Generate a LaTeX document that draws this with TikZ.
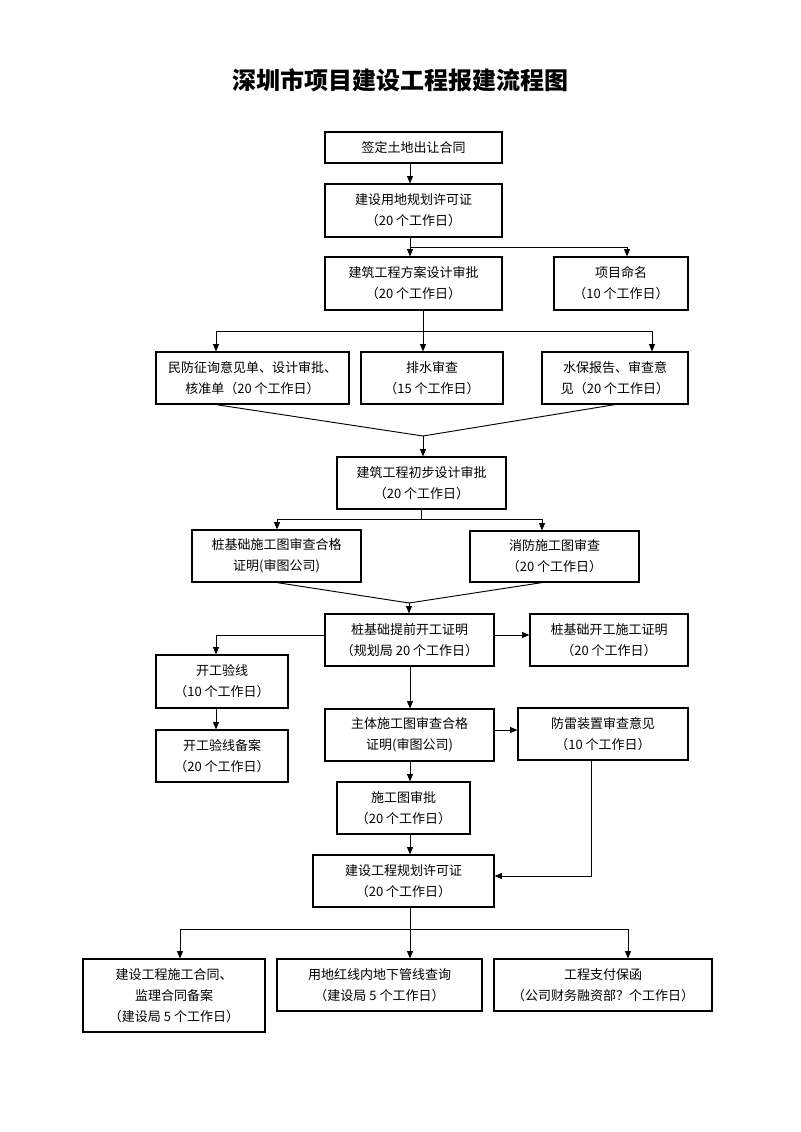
\documentclass[tikz,border=0pt]{standalone}
\usepackage{fontspec}
\setmainfont{Noto Sans CJK SC}
\usetikzlibrary{arrows.meta}
\newcommand{\px}{0.75pt}

\begin{document}
\begin{tikzpicture}[x=0.75pt, y=-0.75pt,
		box/.style={draw, line width=0.9pt, align=center, inner sep=0pt,
			font=\fontsize{9.75pt}{15.75pt}\selectfont},
		sz/.style 2 args={minimum width=#1*\px, minimum height=#2*\px},
		link/.style={line width=0.7pt},
		arr/.style={link, -{Triangle[length=5.5pt,width=4.5pt]}}]
		\useasboundingbox (0,0) rectangle (800,1132);
		\node[font=\bfseries\fontsize{18pt}{22pt}\selectfont] (title) at (400,80) {深圳市项目建设工程报建流程图};
		% boxes
		\node[box, sz={177}{31}] (qd) at (413.5,147.5) {签定土地出让合同};
		\node[box, sz={177}{53}] (ydgh) at (413.5,210.5) {建设用地规划许可证\\（20 个工作日）};
		\node[box, sz={177}{53}] (fa) at (413.5,283.5) {建筑工程方案设计审批\\（20 个工作日）};
		\node[box, sz={134}{53}] (xm) at (621,283.5) {项目命名\\（10 个工作日）};
		\node[box, sz={193}{52}] (mf) at (252.5,378) {民防征询意见单、设计审批、\\核准单（20 个工作日）};
		\node[box, sz={142}{52}] (ps) at (432,378) {排水审查\\（15 个工作日）};
		\node[box, sz={146}{52}] (sb) at (615,378) {水保报告、审查意\\见（20 个工作日）};
		\node[box, sz={169}{52}] (cb) at (421.5,483) {建筑工程初步设计审批\\（20 个工作日）};
		\node[box, sz={169}{52}] (zjt) at (276.5,556) {桩基础施工图审查合格\\证明(审图公司)};
		\node[box, sz={169}{51}] (xfs) at (554.5,556.5) {消防施工图审查\\（20 个工作日）};
		\node[box, sz={169}{52}] (tq) at (409.5,640) {桩基础提前开工证明\\（规划局 20 个工作日）};
		\node[box, sz={158}{52}] (kgz) at (609,640) {桩基础开工施工证明\\（20 个工作日）};
		\node[box, sz={132}{53}] (yx) at (222,681.5) {开工验线\\（10 个工作日）};
		\node[box, sz={132}{52}] (yxba) at (222,756) {开工验线备案\\（20 个工作日）};
		\node[box, sz={169}{52}] (zt) at (409.5,735) {主体施工图审查合格\\证明(审图公司)};
		\node[box, sz={170}{52}] (fl) at (603,734) {防雷装置审查意见\\（10 个工作日）};
		\node[box, sz={133}{52}] (sgt) at (403.5,808) {施工图审批\\（20 个工作日）};
		\node[box, sz={181}{52}] (ghz) at (403.5,881) {建设工程规划许可证\\（20 个工作日）};
		\node[box, sz={182}{73}] (ht) at (174,995.5) {建设工程施工合同、\\监理合同备案\\（建设局 5 个工作日）};
		\node[box, sz={205}{52}] (hx) at (379.5,985) {用地红线内地下管线查询\\（建设局 5 个工作日）};
		\node[box, sz={218}{52}] (bh) at (603,985) {工程支付保函\\（公司财务融资部？个工作日）};
		% columns, rows and meeting points
		\coordinate (c1) at (410,0);
		\coordinate (c2) at (627,0);
		\coordinate (c3) at (423,0);
		\coordinate (c4) at (216,0);
		\coordinate (c5) at (652,0);
		\coordinate (c6) at (277,0);
		\coordinate (c7) at (542,0);
		\coordinate (c8) at (591,0);
		\coordinate (c9) at (180,0);
		\coordinate (c10) at (628,0);
		\coordinate (r1) at (0,247);
		\coordinate (r2) at (0,331);
		\coordinate (r3) at (0,519);
		\coordinate (r4) at (0,635);
		\coordinate (r5) at (0,730);
		\coordinate (r6) at (0,876);
		\coordinate (r7) at (0,929);
		\coordinate (m1) at (423,436);
		\coordinate (m2) at (409,603);
		% connectors
		\draw[arr] (qd.south -| c1) -- (ydgh.north -| c1);
		\draw[arr] (ydgh.south -| c1) -- (fa.north -| c1);
		\draw[arr] (r1 -| c1) -| (xm.north -| c2);
		\draw[arr] (fa.south -| c3) -- (ps.north -| c3);
		\draw[arr] (r2 -| c3) -| (mf.north -| c4);
		\draw[arr] (r2 -| c3) -| (sb.north -| c5);
		\draw[link] (mf.south -| c4) -- (m1);
		\draw[link] (sb.south) -- (m1);
		\draw[arr] (m1) -- (cb.north -| m1);
		\draw[link] (cb.south) -- (cb.south |- r3);
		\draw[arr] (cb.south |- r3) -| (zjt.north -| c6);
		\draw[arr] (cb.south |- r3) -| (xfs.north -| c7);
		\draw[link] (zjt.south -| c6) -- (m2);
		\draw[link] (xfs.south -| c7) -- (m2);
		\draw[arr] (m2) -- (tq.north -| m2);
		\draw[arr] (tq.east |- r4) -- (kgz.west |- r4);
		\draw[arr] (tq.west |- r4) -| (yx.north -| c4);
		\draw[arr] (yx.south -| c4) -- (yxba.north -| c4);
		\draw[arr] (tq.south -| c1) -- (zt.north -| c1);
		\draw[arr] (zt.east |- r5) -- (fl.west |- r5);
		\draw[arr] (zt.south -| c1) -- (sgt.north -| c1);
		\draw[arr] (sgt.south -| c1) -- (ghz.north -| c1);
		\draw[arr] (fl.south -| c8) |- (ghz.east |- r6);
		\draw[link] (ghz.south -| c1) -- (r7 -| c1);
		\draw[arr] (r7 -| c1) -| (ht.north -| c9);
		\draw[arr] (r7 -| c1) -| (bh.north -| c10);
		\draw[arr] (r7 -| c1) -- (hx.north -| c1);
	\end{tikzpicture}
\end{document}
